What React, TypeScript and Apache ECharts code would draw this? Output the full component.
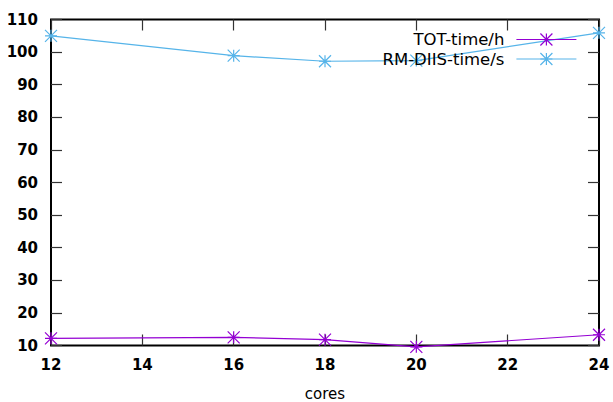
import React, { useEffect, useRef } from 'react';
import * as echarts from 'echarts';

const cores = [12, 16, 18, 20, 24];
const totTime = [12.2, 12.5, 11.8, 9.6, 13.3];
const rmDiisTime = [105, 98.9, 97.2, 97.4, 105.9];
const seriesNames = ['TOT-time/h', 'RM-DIIS-time/s'];
const xAxisName = 'cores';

const PURPLE = '#9400D3';
const BLUE = '#56B4E9';
const STAR = 'path://M0 0L10 10M0 10L10 0M5 0L5 10M0 5L10 5';
const FONT = 'DejaVu Sans';

export default function App() {
  const ref = useRef<HTMLDivElement>(null);
  useEffect(() => {
    if (!ref.current) return;
    const chart = echarts.init(ref.current, undefined, { renderer: 'svg' });
    const tickStyle = { show: true, inside: true, length: 11, lineStyle: { color: '#333', width: 1.2 } };
    const labelStyle = { color: '#000', fontFamily: FONT, fontSize: 15, fontWeight: 'bold' as const };
    const mkSeries = (name: string, vals: number[], color: string) => ({
      type: 'line',
      name,
      data: cores.map((c, i) => [c, vals[i]]),
      symbol: STAR,
      symbolSize: 12,
      showAllSymbol: true,
      clip: false,
      lineStyle: { color, width: 1.2 },
      itemStyle: { color: 'rgba(0,0,0,0)', borderColor: color, borderWidth: 1.2 },
      emphasis: { disabled: true },
    });
    const mkLegend = (name: string, top: number, color: string) => ({
      data: [name],
      right: 36,
      top,
      padding: 0,
      align: 'right',
      orient: 'vertical',
      itemWidth: 60,
      itemHeight: 15,
      selectedMode: false,
      itemStyle: { color: 'rgba(0,0,0,0)', borderColor: color, borderWidth: 1.2 },
      lineStyle: { color, width: 1.2 },
      textStyle: { color: '#000', fontFamily: FONT, fontSize: 16.5, padding: [0, 7, 0, 0] },
    });
    chart.setOption({
      animation: false,
      grid: {
        left: 51,
        right: 14,
        top: 19.5,
        bottom: 56.5,
        outerBoundsMode: 'none',
        containLabel: false,
        show: true,
        borderColor: '#000',
        borderWidth: 2,
        backgroundColor: 'transparent',
      },
      legend: [mkLegend(seriesNames[0], 31, PURPLE), mkLegend(seriesNames[1], 50.5, BLUE)],
      xAxis: [
        {
          type: 'value',
          min: 12,
          max: 24,
          interval: 2,
          position: 'bottom',
          axisLine: { show: false },
          axisTick: tickStyle,
          splitLine: { show: false },
          axisLabel: { ...labelStyle, margin: 12 },
          name: xAxisName,
          nameLocation: 'middle',
          nameGap: 40.5,
          nameTextStyle: { color: '#000', fontFamily: FONT, fontSize: 15, lineHeight: 15 },
        },
        {
          type: 'value',
          min: 12,
          max: 24,
          interval: 2,
          position: 'top',
          axisLine: { show: false },
          axisTick: tickStyle,
          splitLine: { show: false },
          axisLabel: { show: false },
        },
      ],
      yAxis: [
        {
          type: 'value',
          min: 10,
          max: 110,
          interval: 10,
          position: 'left',
          axisLine: { show: false },
          axisTick: tickStyle,
          splitLine: { show: false },
          axisLabel: { ...labelStyle, margin: 13 },
        },
        {
          type: 'value',
          min: 10,
          max: 110,
          interval: 10,
          position: 'right',
          axisLine: { show: false },
          axisTick: tickStyle,
          splitLine: { show: false },
          axisLabel: { show: false },
        },
      ],
      series: [mkSeries(seriesNames[0], totTime, PURPLE), mkSeries(seriesNames[1], rmDiisTime, BLUE)],
    });
    return () => chart.dispose();
  }, []);
  return <div ref={ref} style={{ position: 'absolute', left: 0, top: 0, width: 613, height: 402 }} />;
}
